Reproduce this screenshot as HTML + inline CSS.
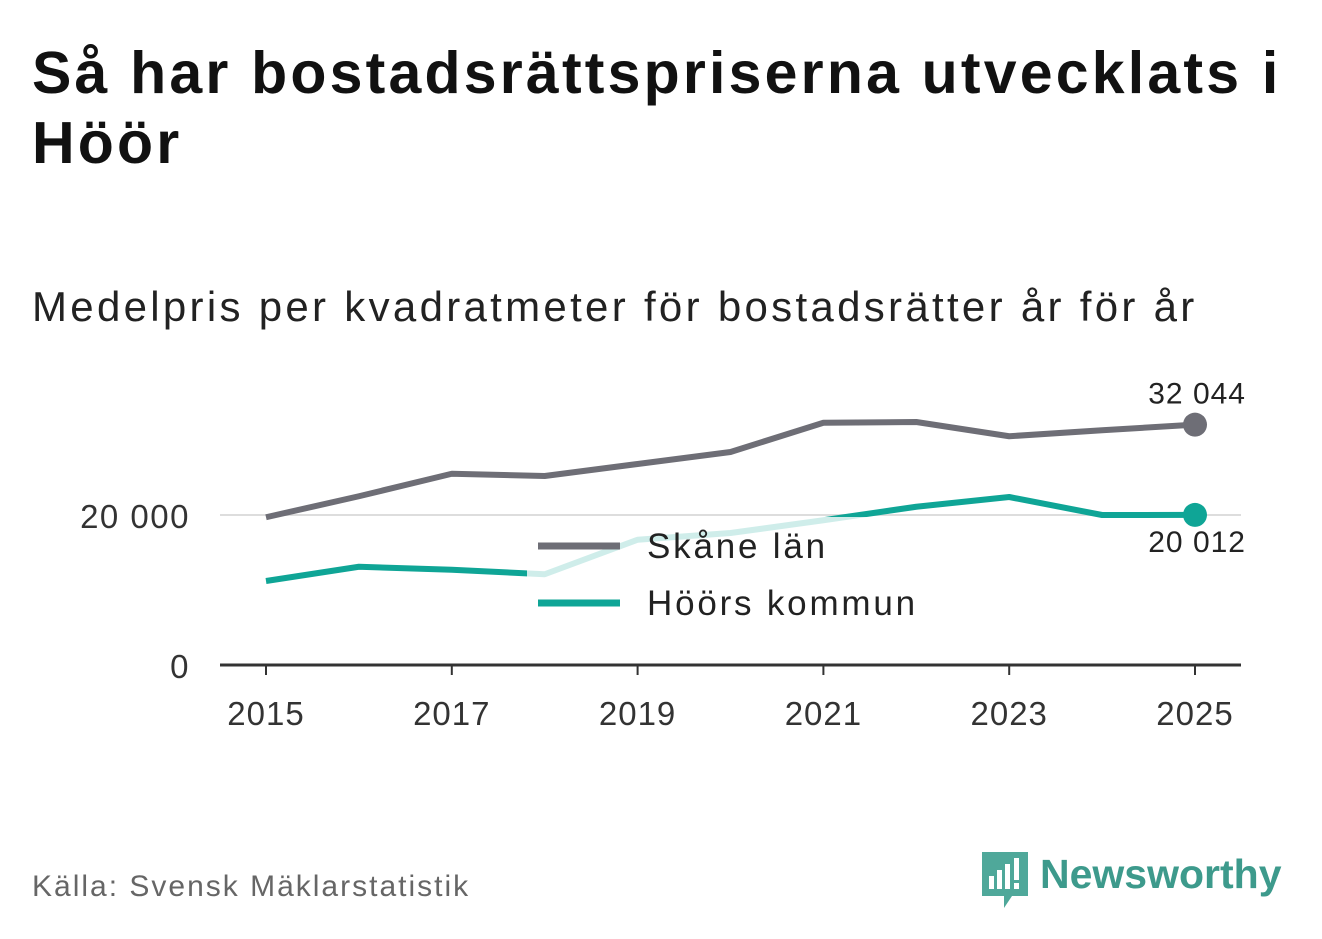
<!DOCTYPE html>
<html><head><meta charset="utf-8"><style>
body{margin:0;width:1322px;height:939px;background:#fff;font-family:"Liberation Sans","DejaVu Sans",sans-serif;overflow:hidden;position:relative}
h1{position:absolute;left:32px;top:38px;margin:0;font-size:59px;line-height:70px;font-weight:bold;color:#111;width:1280px;letter-spacing:3.2px}
.sub{position:absolute;left:32px;top:283px;font-size:42px;color:#222;letter-spacing:3.3px;white-space:nowrap}
.src{position:absolute;left:32px;top:870px;font-size:30px;color:#666;letter-spacing:2px}
</style></head><body>
<h1>Så har bostadsrättspriserna utvecklats i Höör</h1>
<div class="sub">Medelpris per kvadratmeter för bostadsrätter år för år</div>
<div class="src">Källa: Svensk Mäklarstatistik</div>
<svg id="chart" width="1322" height="939" style="position:absolute;left:0;top:0"></svg>
<svg style="position:absolute;left:980px;top:850px" width="330" height="60">
<path d="M2 2h46v44h-16l-8 12v-12h-22z" fill="#4fa89a"/>
<rect x="9" y="26" width="5" height="13" fill="#fff"/><rect x="17" y="20" width="5" height="19" fill="#fff"/><rect x="25" y="14" width="5" height="25" fill="#fff"/><rect x="34" y="8" width="5" height="22" fill="#fff"/><rect x="34" y="33" width="5" height="6" fill="#fff"/>
<text x="60" y="38" font-size="41" font-weight="bold" fill="#3d9a8c" font-family="Liberation Sans, sans-serif">Newsworthy</text>
</svg>
<script>
const years=[2015,2016,2017,2018,2019,2020,2021,2022,2023,2024,2025];
const skane=[19700,22500,25500,25200,26800,28400,32300,32400,30500,31300,32044];
const hoor=[11200,13100,12700,12100,16700,17600,19300,21100,22400,20000,20012];
const yTicks=[0,20000];
const yTickLabels=["0","20 000"];
const xTicks=[2015,2017,2019,2021,2023,2025];
const svg=document.getElementById('chart');
const NS='http://www.w3.org/2000/svg';
const X=y=>266+(y-2015)*92.9;
const Y=v=>665-v*0.0075;
function mk(t,a){const e=document.createElementNS(NS,t);for(const k in a)e.setAttribute(k,a[k]);svg.appendChild(e);return e;}
yTicks.forEach((v,i)=>{
 if(v>0){const g=mk('line',{x1:220,x2:1241,y1:Y(v),y2:Y(v),stroke:'#ddd','stroke-width':2});
 
 }
 const t=mk('text',{x:190,y:Y(v)+13,'text-anchor':'end','font-size':33,fill:'#333','letter-spacing':1.5});t.textContent=yTickLabels[i];
 
 
});
const ax=mk('line',{x1:220,x2:1241,y1:665,y2:665,stroke:'#333','stroke-width':3});


xTicks.forEach(yr=>{
 mk('line',{x1:X(yr),x2:X(yr),y1:665,y2:675,stroke:'#333','stroke-width':2});
 const t=mk('text',{x:X(yr),y:725,'text-anchor':'middle','font-size':33,fill:'#333','letter-spacing':1});t.textContent=yr;
 
 
});
function series(vals,col,name){
 const p=mk('polyline',{points:vals.map((v,i)=>X(years[i])+','+Y(v)).join(' '),fill:'none',stroke:col,'stroke-width':6,'stroke-linejoin':'round'});
 
 
 const c=mk('circle',{cx:X(years[years.length-1]),cy:Y(vals[vals.length-1]),r:12,fill:col});
 
 
}
series(skane,'#6e6e76','skane');
series(hoor,'#0fa596','hoor');
const fmt=v=>Math.round(v).toString().replace(/\B(?=(\d{3})+(?!\d))/g,' ');
let l1=mk('text',{x:1246,y:Y(skane[10])-21,'text-anchor':'end','font-size':30,fill:'#222','letter-spacing':1});l1.textContent=fmt(skane[10]);


let l2=mk('text',{x:1246,y:Y(hoor[10])+37,'text-anchor':'end','font-size':30,fill:'#222','letter-spacing':1});l2.textContent=fmt(hoor[10]);


const bg=mk('rect',{x:527,y:517,width:408,height:113,fill:'#fff','fill-opacity':0.8});


[['Skåne län','#6e6e76',546],['Höörs kommun','#0fa596',603]].forEach(([n,c,y])=>{
 mk('line',{x1:538,x2:620,y1:y,y2:y,stroke:c,'stroke-width':7});
 const t=mk('text',{x:647,y:y+12,'font-size':35,fill:'#222','letter-spacing':2.8});t.textContent=n;
 
 
});
</script>
</body></html>
